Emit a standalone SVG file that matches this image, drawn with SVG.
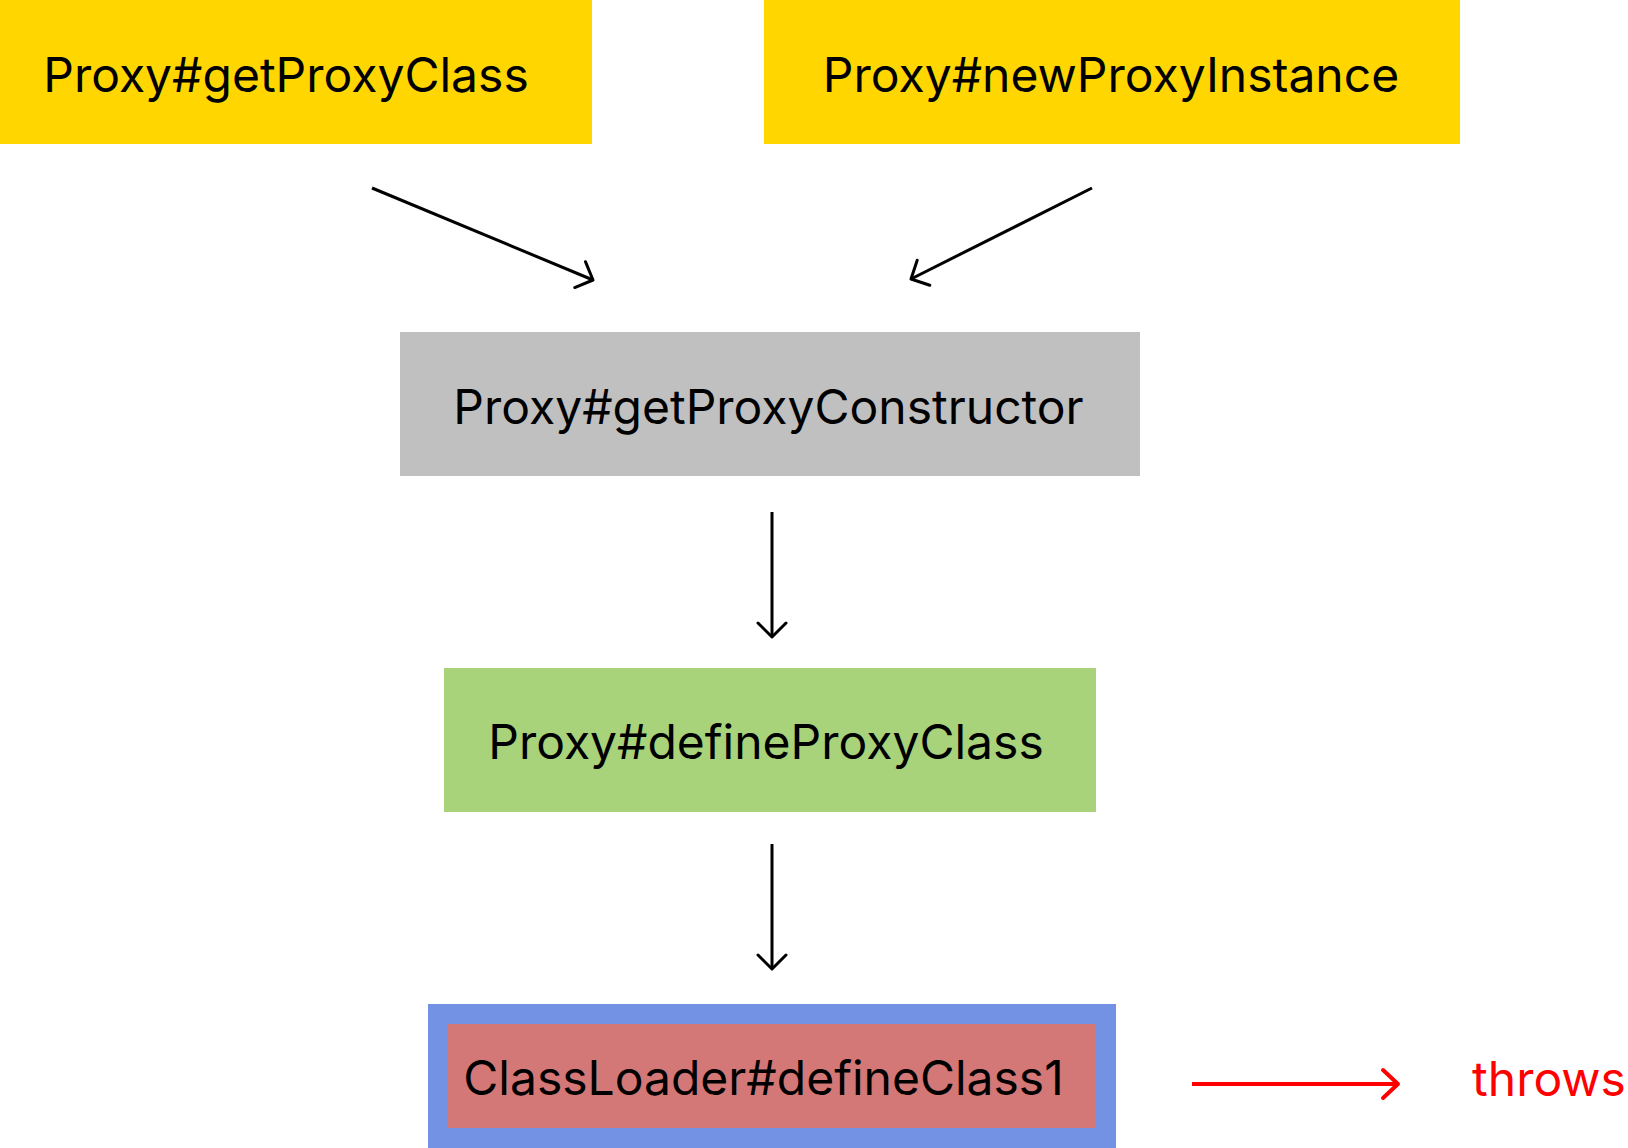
<svg xmlns="http://www.w3.org/2000/svg" width="1628" height="1148" viewBox="0 0 1628 1148">
  <style>
    .lbl { font-family: Inter, "Noto Sans", "Liberation Sans", sans-serif; font-size: 48px; fill: #000000; text-anchor: middle; }
    .edge { stroke: #000000; stroke-width: 3; fill: none; }
    .red { stroke: #FF0000; stroke-width: 4; }
  </style>
  <defs>
    <marker id="arr" markerUnits="userSpaceOnUse" markerWidth="40" markerHeight="40" refX="20" refY="20" orient="auto" viewBox="0 0 40 40">
      <path d="M 6 6 L 20 20 L 6 34" fill="none" stroke="#000000" stroke-width="3" stroke-linecap="round" stroke-linejoin="round"/>
    </marker>
    <marker id="arrRed" markerUnits="userSpaceOnUse" markerWidth="40" markerHeight="40" refX="20" refY="20" orient="auto" viewBox="0 0 40 40">
      <path d="M 5 6 L 20 20 L 5 34" fill="none" stroke="#FF0000" stroke-width="4" stroke-linecap="round" stroke-linejoin="round"/>
    </marker>
  </defs>
  <rect width="1628" height="1148" fill="#FFFFFF"/>

  <g id="node-getProxyClass">
    <rect x="-20" y="0" width="612" height="144" fill="#FFD600"/>
    <text class="lbl" x="286" y="92">Proxy#getProxyClass</text>
  </g>
  <g id="node-newProxyInstance">
    <rect x="764" y="0" width="696" height="144" fill="#FFD600"/>
    <text class="lbl" x="1111" y="92">Proxy#newProxyInstance</text>
  </g>
  <g id="node-getProxyConstructor">
    <rect x="400" y="332" width="740" height="144" fill="#C0C0C0"/>
    <text class="lbl" x="768.5" y="424">Proxy#getProxyConstructor</text>
  </g>
  <g id="node-defineProxyClass">
    <rect x="444" y="668" width="652" height="144" fill="#A8D37B"/>
    <text class="lbl" x="766" y="759">Proxy#defineProxyClass</text>
  </g>
  <g id="node-defineClass1">
    <rect x="428" y="1004" width="688" height="144" fill="#7392E3"/>
    <rect x="448" y="1024" width="648" height="104" fill="#D37877"/>
    <text class="lbl" x="763.5" y="1095">ClassLoader#defineClass1</text>
  </g>
  <g id="node-throws">
    <text class="lbl" x="1549" y="1096" style="fill:#FF0000">throws</text>
  </g>

  <g id="connectors">
    <line class="edge" x1="372" y1="188" x2="593" y2="280" marker-end="url(#arr)"/>
    <line class="edge" x1="1092" y1="188" x2="911" y2="279" marker-end="url(#arr)"/>
    <line class="edge" x1="772" y1="512" x2="772" y2="637" marker-end="url(#arr)"/>
    <line class="edge" x1="772" y1="844" x2="772" y2="969" marker-end="url(#arr)"/>
    <line class="edge red" x1="1192" y1="1084" x2="1398" y2="1084" marker-end="url(#arrRed)"/>
  </g>
</svg>
